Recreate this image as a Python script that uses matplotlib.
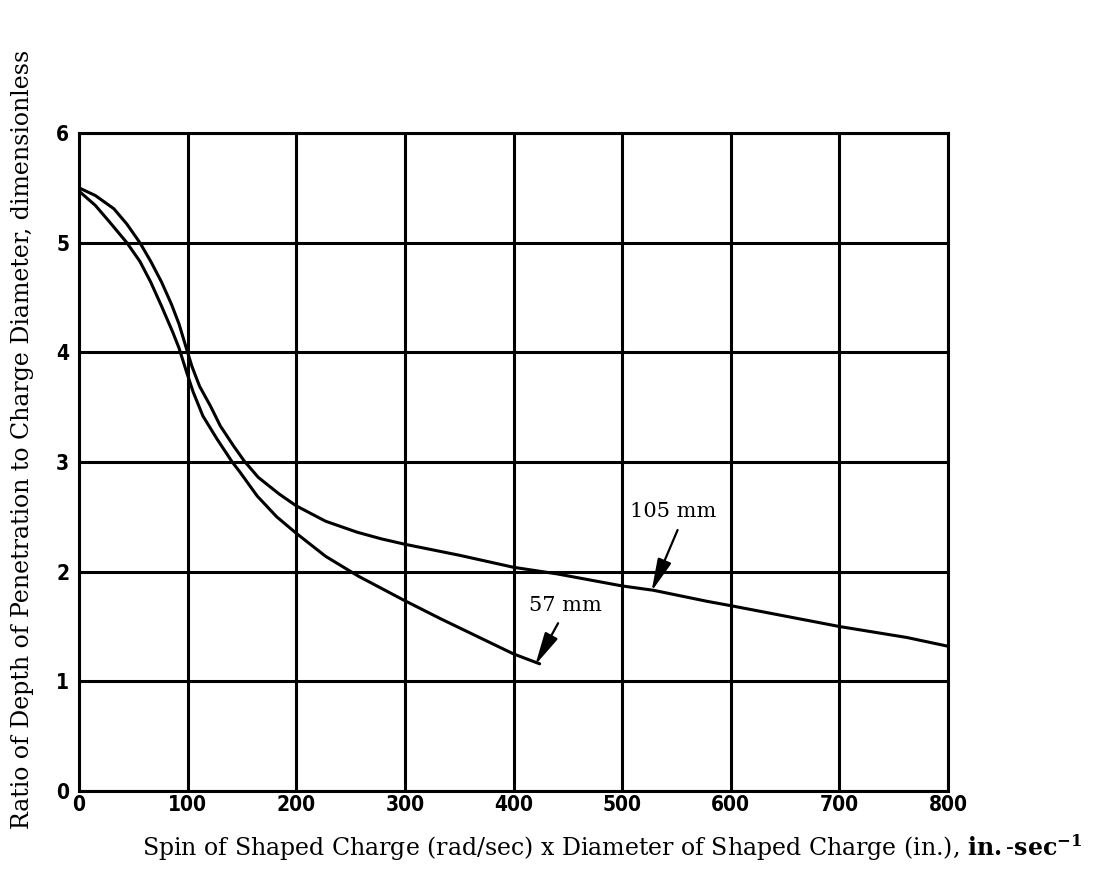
import matplotlib
matplotlib.use("Agg")
import matplotlib.pyplot as plt

plt.rcParams["mathtext.fontset"] = "dejavuserif"

# curves
x_105 = [0, 15, 32, 44, 56, 66, 76, 85, 92, 99, 104, 111, 121, 130, 142, 152,
         165, 184, 200, 227, 256, 278, 300, 350, 400, 440, 500, 529, 578, 600,
         700, 762, 800]
y_105 = [5.50, 5.43, 5.31, 5.17, 5.00, 4.83, 4.64, 4.44, 4.26, 4.03, 3.87, 3.69,
         3.51, 3.33, 3.15, 3.01, 2.86, 2.71, 2.60, 2.46, 2.36, 2.30, 2.25, 2.15,
         2.04, 1.98, 1.87, 1.83, 1.73, 1.69, 1.50, 1.40, 1.32]

x_57 = [0, 15, 28, 44, 56, 66, 76, 86, 92, 99, 105, 114, 127, 141, 148, 164,
        182, 200, 227, 257, 299, 333, 400, 424]
y_57 = [5.47, 5.34, 5.19, 5.00, 4.83, 4.64, 4.42, 4.19, 4.04, 3.82, 3.64, 3.42,
        3.21, 3.00, 2.91, 2.69, 2.50, 2.35, 2.14, 1.96, 1.74, 1.57, 1.25, 1.16]

x_ticks = [0, 100, 200, 300, 400, 500, 600, 700, 800]
y_ticks = [0, 1, 2, 3, 4, 5, 6]

labels = ["57 mm", "105 mm"]
label_text_pos = [(448, 1.69), (547, 2.55)]
arrow_tail = [(441, 1.53), (551, 2.38)]
arrow_tip = [(420, 1.15), (527, 1.82)]

tick_font = dict(family="DejaVu Sans", weight="bold", stretch="condensed", size=15)
label_font = dict(family="DejaVu Serif", size=17)

fig = plt.figure(figsize=(11.18, 8.85), dpi=100)
ax = fig.add_axes([0.0707, 0.1062, 0.7773, 0.7435])

lw = 2.2
ax.plot(x_105, y_105, color="black", lw=lw, solid_capstyle="round",
        solid_joinstyle="round")
ax.plot(x_57, y_57, color="black", lw=lw, solid_capstyle="round",
        solid_joinstyle="round")

ax.set_xlim(0, 800)
ax.set_ylim(0, 6)
ax.set_xticks(x_ticks)
ax.set_yticks(y_ticks)
ax.set_xticklabels([str(v) for v in x_ticks], fontdict=tick_font)
ax.set_yticklabels([str(v) for v in y_ticks], fontdict=tick_font)
ax.tick_params(axis="x", length=0, pad=3)
ax.tick_params(axis="y", length=0, pad=7)
ax.grid(True, color="black", lw=lw)
for s in ax.spines.values():
    s.set_linewidth(lw)

for lab, tpos, tail, tip in zip(labels, label_text_pos, arrow_tail, arrow_tip):
    ax.text(tpos[0], tpos[1], lab, ha="center", va="center",
            family="DejaVu Serif", size=15)
    ax.annotate("", xy=tip, xytext=tail,
                arrowprops=dict(arrowstyle="-|>,head_length=1.0,head_width=0.22",
                                color="black", lw=1.6, mutation_scale=20,
                                shrinkA=0, shrinkB=0))

fig.text(0.548, 0.042,
         "Spin of Shaped Charge (rad/sec) x Diameter of Shaped Charge (in.), "
         r"$\mathbf{in.}$" + "-" + r"$\mathbf{sec}^{\mathbf{-1}}$",
         ha="center", va="center", **label_font)
fig.text(0.02, 0.503, "Ratio of Depth of Penetration to Charge Diameter, dimensionless",
         ha="center", va="center", rotation=90, **label_font)

fig.savefig("out.png", dpi=100)
